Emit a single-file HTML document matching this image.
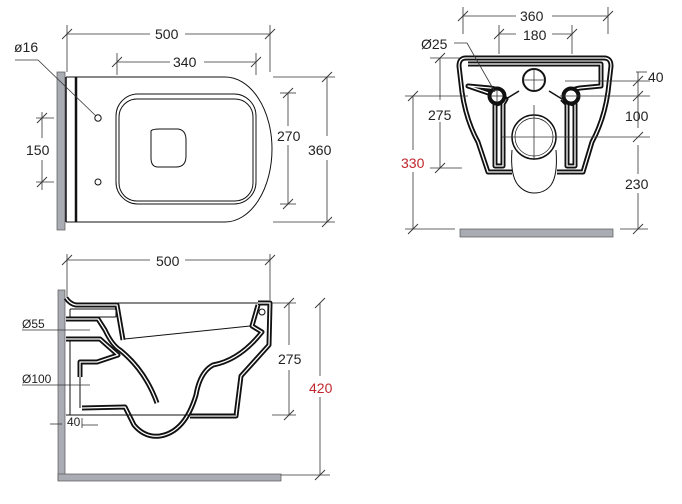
<!DOCTYPE html>
<html><head><meta charset="utf-8"><style>
body{margin:0;background:#fff}
svg{display:block}
text{font-family:"Liberation Sans",sans-serif;font-size:14px;fill:#222}
.d{stroke:#333;stroke-width:0.8;fill:none}
.o{stroke:#111;stroke-width:5;fill:none;stroke-linejoin:round}
.w{stroke:#fff;stroke-width:1.3;fill:none;stroke-linejoin:round}
.t{stroke:#111;stroke-width:1;fill:none}
</style></head><body>
<svg width="682" height="504" viewBox="0 0 682 504">
<defs>
<g id="tk"><line x1="-5" y1="5" x2="5" y2="-5" stroke="#333" stroke-width="0.9"/></g>
</defs>
<!-- ========== TOP VIEW ========== -->
<rect x="57" y="72" width="8" height="158" fill="#a9adb3" stroke="#555" stroke-width="0.7"/>
<path d="M66 77 H225 A47 72 0 0 1 272 149 A47 73 0 0 1 225 222 H66" class="t" stroke-width="3.2"/>
<line x1="76" y1="77" x2="76" y2="222" stroke="#111" stroke-width="2.5"/>
<line x1="66" y1="77" x2="66" y2="222" stroke="#111" stroke-width="1.5"/>
<rect x="116" y="94" width="140" height="110" rx="22" class="t" stroke-width="1.3"/>
<rect x="119" y="99" width="134" height="102" rx="18" class="t" stroke-width="0.8"/>
<path d="M151 131 Q152 129 160 129 H178 Q186 130 186 140 V156 Q186 167 176 167 H158 Q151 167 151 158 Z" class="t"/>
<circle cx="98" cy="118" r="3.2" class="t"/>
<circle cx="98" cy="182" r="3" class="t"/>
<line x1="67" y1="25" x2="67" y2="72" class="d"/><line x1="270" y1="25" x2="270" y2="72" class="d"/>
<line x1="67" y1="34" x2="150" y2="34" class="d"/><line x1="185" y1="34" x2="270" y2="34" class="d"/>
<use href="#tk" x="67" y="34"/><use href="#tk" x="270" y="34"/>
<text x="155" y="39">500</text>
<line x1="117" y1="53" x2="117" y2="75" class="d"/><line x1="256" y1="53" x2="256" y2="75" class="d"/>
<line x1="117" y1="62" x2="170" y2="62" class="d"/><line x1="204" y1="62" x2="256" y2="62" class="d"/>
<use href="#tk" x="117" y="62"/><use href="#tk" x="256" y="62"/>
<text x="173" y="67">340</text>
<line x1="273" y1="77" x2="335" y2="77" class="d"/><line x1="273" y1="222" x2="335" y2="222" class="d"/>
<line x1="327" y1="77" x2="327" y2="136" class="d"/><line x1="327" y1="160" x2="327" y2="222" class="d"/>
<use href="#tk" x="327" y="77"/><use href="#tk" x="327" y="222"/>
<text x="308" y="155">360</text>
<line x1="280" y1="93" x2="296" y2="93" class="d"/><line x1="280" y1="204" x2="296" y2="204" class="d"/>
<line x1="288" y1="93" x2="288" y2="126" class="d"/><line x1="288" y1="145" x2="288" y2="204" class="d"/>
<use href="#tk" x="288" y="93"/><use href="#tk" x="288" y="204"/>
<text x="277" y="141">270</text>
<line x1="36" y1="118" x2="54" y2="118" class="d"/><line x1="36" y1="182" x2="54" y2="182" class="d"/>
<line x1="42" y1="112" x2="42" y2="138" class="d"/><line x1="42" y1="160" x2="42" y2="190" class="d"/>
<use href="#tk" x="42" y="118"/><use href="#tk" x="42" y="182"/>
<text x="26" y="155">150</text>
<text x="14" y="52">ø16</text>
<polyline points="15,60 38,60 96,116" class="d"/>
<!-- ========== SIDE VIEW ========== -->
<rect x="58" y="290" width="7" height="190" fill="#a9adb3" stroke="#555" stroke-width="0.7"/>
<rect x="58" y="474" width="223" height="7" fill="#a9adb3" stroke="#555" stroke-width="0.7"/>
<line x1="67" y1="254" x2="67" y2="300" class="d"/><line x1="270" y1="254" x2="270" y2="300" class="d"/>
<line x1="67" y1="260" x2="150" y2="260" class="d"/><line x1="185" y1="260" x2="270" y2="260" class="d"/>
<use href="#tk" x="67" y="260"/><use href="#tk" x="270" y="260"/>
<text x="156" y="266">500</text>
<line x1="118" y1="303" x2="270" y2="303" class="t"/>
<line x1="124" y1="339" x2="250" y2="326" class="t" stroke-width="0.8"/>
<path d="M66 298 Q70 304 76 305 H117 L123 340" class="o"/>
<path d="M66 298 Q70 304 76 305 H117 L123 340" class="w"/>
<rect x="70" y="309" width="46" height="8" rx="1" class="t"/>
<path d="M258 303 H270 L269 345 L241 376 L236 416 H190" class="o"/>
<path d="M258 303 H270 L269 345 L241 376 L236 416 H190" class="w"/>
<circle cx="262" cy="312" r="3" class="t"/>
<path d="M258 305 L252 326 L262 332 Q240 360 213 365 Q200 372 196 395 Q185 432 160 436 Q145 438 134 425 L125 407 L82 408" class="o"/>
<path d="M258 305 L252 326 L262 332 Q240 360 213 365 Q200 372 196 395 Q185 432 160 436 Q145 438 134 425 L125 407 L82 408" class="w"/>
<path d="M66 319 H98 L105 330 Q112 345 120 350 Q145 370 157 403" class="o"/>
<path d="M66 319 H98 L105 330 Q112 345 120 350 Q145 370 157 403" class="w"/>
<path d="M66 339 H100 L118 355 L97 362 L80 362 V377" class="o"/>
<path d="M66 339 H100 L118 355 L97 362 L80 362 V377" class="w"/>
<line x1="70" y1="341" x2="70" y2="415" class="t"/>
<line x1="80" y1="377" x2="80" y2="408" class="t"/>
<line x1="66" y1="415" x2="236" y2="415" class="t" stroke-width="0.7"/>
<line x1="22" y1="330" x2="90" y2="330" class="d"/>
<line x1="22" y1="385" x2="90" y2="385" class="d"/>
<text x="22" y="328" style="font-size:12px">Ø55</text>
<text x="22" y="383" style="font-size:12px">Ø100</text>
<text x="67" y="426" style="font-size:12px">40</text>
<line x1="50" y1="424" x2="62" y2="424" class="d"/><line x1="82" y1="425" x2="98" y2="425" class="d"/>
<line x1="82" y1="418" x2="82" y2="428" class="d"/>
<line x1="272" y1="303" x2="296" y2="303" class="d"/><line x1="272" y1="415" x2="296" y2="415" class="d"/>
<line x1="289" y1="303" x2="289" y2="345" class="d"/><line x1="289" y1="370" x2="289" y2="415" class="d"/>
<use href="#tk" x="289" y="303"/><use href="#tk" x="289" y="415"/>
<text x="278" y="364">275</text>
<line x1="281" y1="475" x2="330" y2="475" class="d"/>
<line x1="320" y1="303" x2="320" y2="376" class="d"/><line x1="320" y1="397" x2="320" y2="475" class="d"/>
<use href="#tk" x="320" y="303"/><use href="#tk" x="320" y="475"/>
<text x="309" y="393" style="fill:#c0272d">420</text>
<!-- ========== FRONT VIEW ========== -->
<path d="M512 172 H488 L478 142 Q466 120 462 92 L459 66 Q459 58 466 58 H604 Q611 58 611 66 L608 92 Q604 120 592 142 L583 172 H557" class="o"/>
<path d="M512 172 H488 L478 142 Q466 120 462 92 L459 66 Q459 58 466 58 H604 Q611 58 611 66 L608 92 Q604 120 592 142 L583 172 H557" class="w"/>
<path d="M512 150 Q510 175 518 185 Q525 193 534 193 Q545 193 551 185 Q558 175 556 150" class="t" stroke-width="0.9"/>
<path d="M468 64 H601 V86 L580 88 Q568 90 566 97 Q569 104 575 104 V166 L567 166 V104 L562 99 M506 99 L503 104 V166 L495 166 V104 Q501 104 504 97 Q502 90 490 88 L468 86 Z" class="o"/>
<path d="M468 64 H601 V86 L580 88 Q568 90 566 97 Q569 104 575 104 V166 L567 166 V104 L562 99 M506 99 L503 104 V166 L495 166 V104 Q501 104 504 97 Q502 90 490 88 L468 86 Z" class="w"/>
<line x1="562" y1="99" x2="549" y2="91" stroke="#111" stroke-width="1.5"/>
<line x1="506" y1="99" x2="519" y2="91" stroke="#111" stroke-width="1.5"/>
<circle cx="497" cy="96" r="7.5" fill="#fff" stroke="#111" stroke-width="4"/>
<circle cx="571" cy="96" r="7.5" fill="#fff" stroke="#111" stroke-width="4"/>
<circle cx="534" cy="80" r="11" fill="#fff" stroke="#111" stroke-width="2"/>
<circle cx="534" cy="137" r="22" fill="#fff" stroke="#111" stroke-width="1.5"/>
<circle cx="534" cy="137" r="19" fill="none" stroke="#111" stroke-width="0.7"/>
<line x1="534" y1="68" x2="534" y2="92" class="d"/><line x1="522" y1="80" x2="546" y2="80" class="d"/>
<line x1="534" y1="105" x2="534" y2="160" class="d"/>
<line x1="502" y1="137" x2="650" y2="137" class="d"/>
<line x1="491" y1="96" x2="503" y2="96" class="d"/><line x1="497" y1="90" x2="497" y2="102" class="d"/>
<line x1="565" y1="81" x2="650" y2="81" class="d"/>
<line x1="560" y1="96" x2="650" y2="96" class="d"/>
<line x1="405" y1="96" x2="468" y2="96" class="d"/>
<rect x="460" y="229" width="153" height="8" fill="#a9adb3" stroke="#555" stroke-width="0.7"/>
<line x1="463" y1="7" x2="463" y2="34" class="d"/><line x1="608" y1="7" x2="608" y2="34" class="d"/>
<line x1="463" y1="16" x2="516" y2="16" class="d"/><line x1="552" y1="16" x2="608" y2="16" class="d"/>
<use href="#tk" x="463" y="16"/><use href="#tk" x="608" y="16"/>
<text x="520" y="21">360</text>
<line x1="499" y1="25" x2="499" y2="54" class="d"/><line x1="572" y1="25" x2="572" y2="54" class="d"/>
<line x1="499" y1="34" x2="516" y2="34" class="d"/><line x1="552" y1="34" x2="572" y2="34" class="d"/>
<use href="#tk" x="499" y="34"/><use href="#tk" x="572" y="34"/>
<text x="523" y="40">180</text>
<text x="421" y="49">Ø25</text>
<polyline points="454,43 467,43 495,92" class="d"/>
<line x1="430" y1="58" x2="460" y2="58" class="d"/>
<line x1="440" y1="58" x2="440" y2="100" class="d"/><line x1="440" y1="122" x2="440" y2="168" class="d"/>
<line x1="430" y1="168" x2="462" y2="168" class="d"/>
<use href="#tk" x="440" y="58"/><use href="#tk" x="440" y="168"/>
<text x="428" y="120">275</text>
<line x1="413" y1="96" x2="413" y2="150" class="d"/><line x1="413" y1="172" x2="413" y2="229" class="d"/>
<line x1="405" y1="229" x2="455" y2="229" class="d"/>
<use href="#tk" x="413" y="96"/><use href="#tk" x="413" y="229"/>
<text x="401" y="168" style="fill:#c0272d">330</text>
<line x1="638" y1="72" x2="638" y2="128" class="d"/><line x1="638" y1="145" x2="638" y2="174" class="d"/>
<line x1="638" y1="193" x2="638" y2="229" class="d"/>
<line x1="620" y1="229" x2="648" y2="229" class="d"/>
<polyline points="636,72 647,72" class="d"/>
<use href="#tk" x="638" y="81"/><use href="#tk" x="638" y="96"/><use href="#tk" x="638" y="137"/><use href="#tk" x="638" y="229"/>
<text x="648" y="82">40</text>
<text x="625" y="121">100</text>
<text x="625" y="189">230</text>
</svg>
</body></html>
